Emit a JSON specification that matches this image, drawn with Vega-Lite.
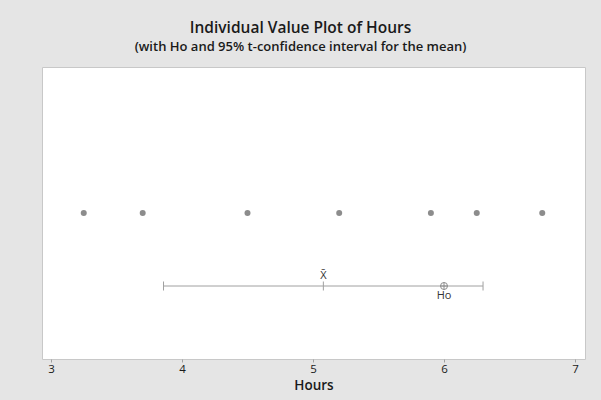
{
  "$schema": "https://vega.github.io/schema/vega-lite/v6.json",
  "width": 543,
  "height": 292,
  "autosize": {"type": "none"},
  "padding": {"left": 42, "top": 67, "right": 16, "bottom": 41},
  "background": "#e5e5e5",
  "title": {
    "text": "Individual Value Plot of Hours",
    "subtitle": "(with Ho and 95% t-confidence interval for the mean)",
    "anchor": "middle",
    "frame": "group",
    "dx": -13,
    "offset": 13,
    "font": "Open Sans",
    "fontSize": 15.5,
    "fontWeight": 600,
    "color": "#1a1a1a",
    "subtitleFont": "Open Sans",
    "subtitleFontSize": 13,
    "subtitleFontWeight": 600,
    "subtitleColor": "#1a1a1a",
    "subtitlePadding": 5
  },
  "config": {
    "view": {"fill": "white", "stroke": "#c8c8c8", "strokeWidth": 1},
    "font": "Open Sans"
  },
  "datasets": {
    "hours": [
      {"Hours": 3.25},
      {"Hours": 3.7},
      {"Hours": 4.5},
      {"Hours": 5.2},
      {"Hours": 5.9},
      {"Hours": 6.25},
      {"Hours": 6.75}
    ],
    "ci": [{"mean": 5.079, "lower": 3.859, "upper": 6.298, "ho": 6}],
    "ends": [{"v": 3.859}, {"v": 5.079}, {"v": 6.298}]
  },
  "layer": [
    {
      "data": {"name": "hours"},
      "mark": {"type": "point", "shape": "circle", "filled": true, "color": "#8c8c8c", "opacity": 1, "size": 36},
      "encoding": {
        "x": {
          "field": "Hours",
          "type": "quantitative",
          "scale": {"domain": [2.9313, 7.0763], "nice": false, "zero": false},
          "axis": {
            "values": [3, 4, 5, 6, 7],
            "format": "d",
            "grid": false,
            "domain": false,
            "tickSize": 3,
            "tickColor": "#a0a0a0",
            "labelFontSize": 11.5,
            "labelColor": "#1a1a1a",
            "labelPadding": 1,
            "title": "Hours",
            "titleFontSize": 13.5,
            "titleFontWeight": 600,
            "titleColor": "#1a1a1a",
            "titlePadding": 4
          }
        },
        "y": {"datum": 0.5, "type": "quantitative", "scale": {"domain": [0, 1]}, "axis": null}
      }
    },
    {
      "data": {"name": "ci"},
      "mark": {"type": "rule", "color": "#a0a0a0", "strokeWidth": 1},
      "encoding": {
        "x": {"field": "lower", "type": "quantitative"},
        "x2": {"field": "upper"},
        "y": {"datum": 0.25, "type": "quantitative"}
      }
    },
    {
      "data": {"name": "ends"},
      "mark": {"type": "point", "shape": "M0,-1L0,1", "filled": false, "color": "#a0a0a0", "strokeWidth": 1, "opacity": 1, "size": 81},
      "encoding": {
        "x": {"field": "v", "type": "quantitative"},
        "y": {"datum": 0.25, "type": "quantitative"}
      }
    },
    {
      "data": {"name": "ci"},
      "mark": {"type": "point", "shape": "circle", "filled": false, "color": "#8c8c8c", "strokeWidth": 1, "opacity": 1, "size": 49},
      "encoding": {
        "x": {"field": "ho", "type": "quantitative"},
        "y": {"datum": 0.25, "type": "quantitative"}
      }
    },
    {
      "data": {"name": "ci"},
      "mark": {"type": "point", "shape": "M-1,0L1,0M0,-1L0,1", "filled": false, "color": "#8c8c8c", "strokeWidth": 1, "opacity": 1, "size": 49},
      "encoding": {
        "x": {"field": "ho", "type": "quantitative"},
        "y": {"datum": 0.25, "type": "quantitative"}
      }
    },
    {
      "data": {"name": "ci"},
      "mark": {"type": "text", "text": "X̄", "dy": -10, "fontSize": 11, "color": "#333333"},
      "encoding": {
        "x": {"field": "mean", "type": "quantitative"},
        "y": {"datum": 0.25, "type": "quantitative"}
      }
    },
    {
      "data": {"name": "ci"},
      "mark": {"type": "text", "text": "Ho", "dy": 10, "fontSize": 11, "color": "#333333"},
      "encoding": {
        "x": {"field": "ho", "type": "quantitative"},
        "y": {"datum": 0.25, "type": "quantitative"}
      }
    }
  ]
}
